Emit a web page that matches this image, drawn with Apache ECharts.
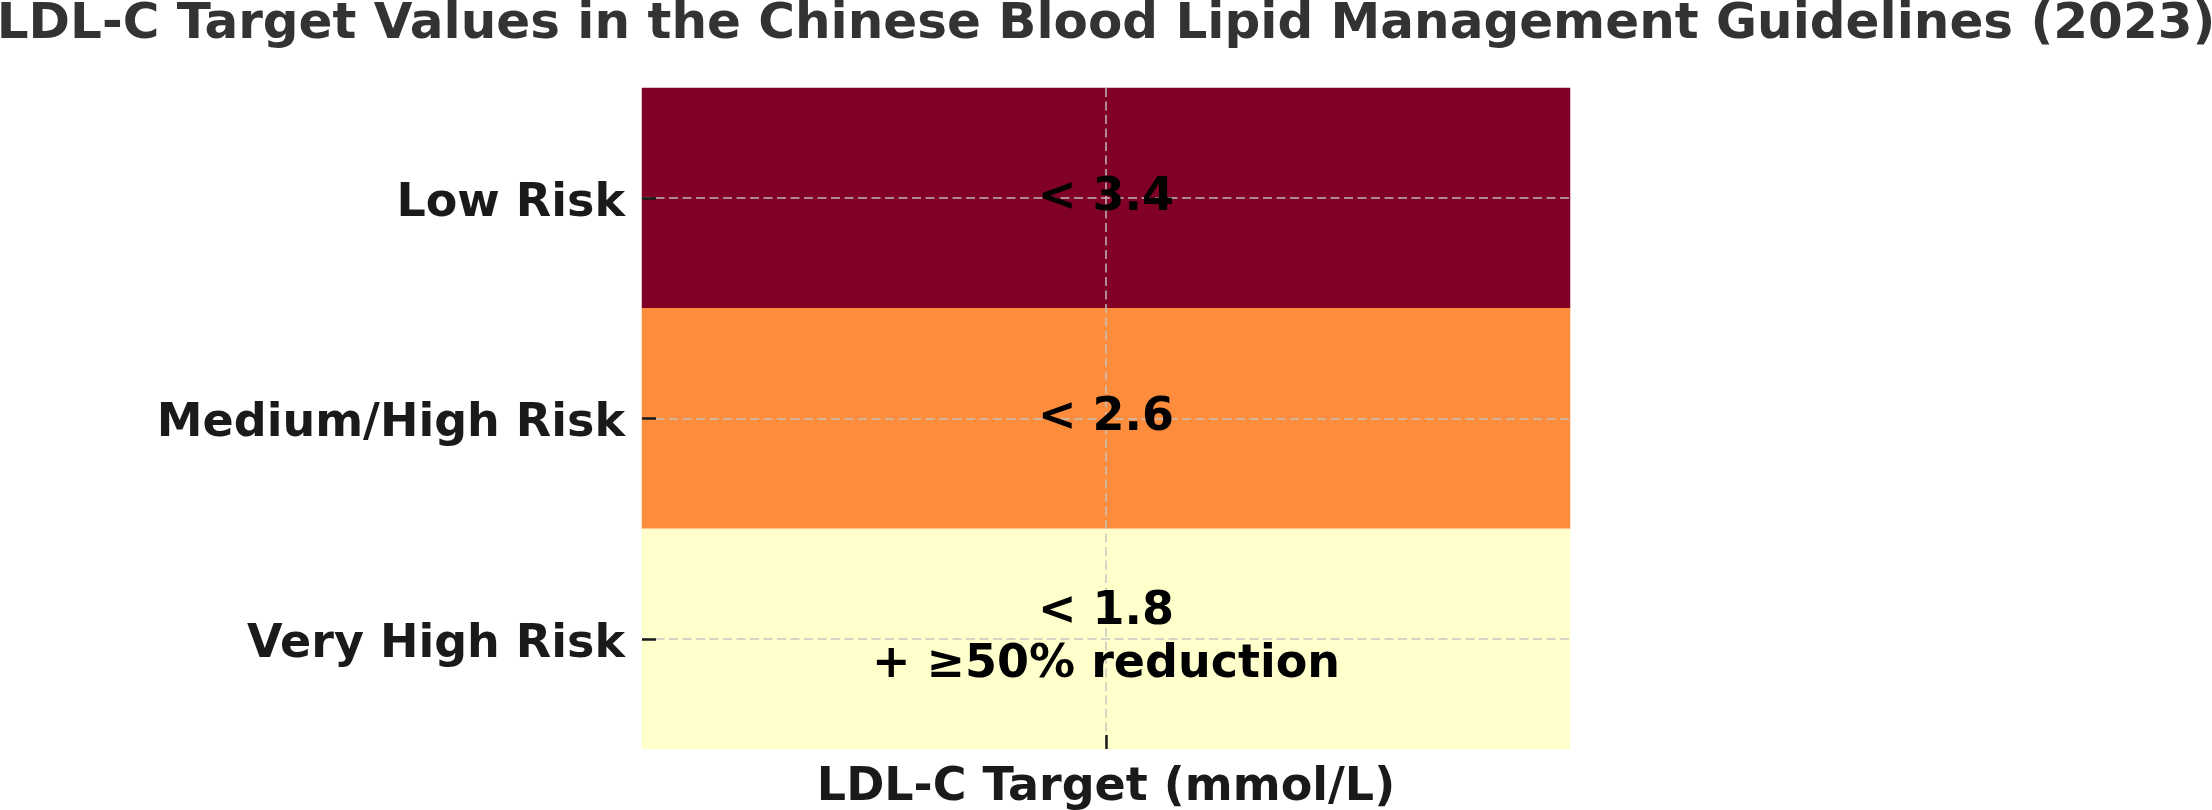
<!DOCTYPE html>
<html>
<head>
<meta charset="utf-8">
<title>LDL-C Target Values</title>
<script src="https://cdn.jsdelivr.net/npm/echarts@6/dist/echarts.min.js"></script>
<style>
  html, body { margin: 0; padding: 0; background: #fff; }
  #chart { width: 2212px; height: 810px; }
</style>
</head>
<body>
<div id="chart"></div>
<script>
// data
var riskLevels = ['Low Risk', 'Medium/High Risk', 'Very High Risk'];
var targetValues = [3.4, 2.6, 1.8];
var targetText = ['< 3.4', '< 2.6', '< 1.8\n+ \u226550% reduction'];
var xCategories = ['LDL-C Target (mmol/L)'];

var chart = echarts.init(document.getElementById('chart'));

var cells = [];
var textPoints = [];
for (var i = 0; i < riskLevels.length; i++) {
    cells.push([0, i, targetValues[i]]);
    textPoints.push([0, i]);
}

// dashed grid through the middle of each cell, drawn over the colours
var gridLines = [];
xCategories.forEach(function (c) { gridLines.push({ xAxis: c }); });
riskLevels.forEach(function (r) { gridLines.push({ yAxis: r }); });

var font = 'DejaVu Sans';
var tickStyle = {
    show: true,
    inside: true,
    alignWithLabel: true,
    length: 14,
    lineStyle: { color: '#1a1a1a', width: 2.5 }
};

option = {
    animation: false,
    title: {
        text: 'LDL-C Target Values in the Chinese Blood Lipid Management Guidelines (2023)',
        left: 'center',
        top: -5,
        textStyle: {
            fontFamily: font,
            fontWeight: 'bold',
            fontSize: 50,
            color: '#333333'
        }
    },
    grid: {
        left: 642,
        right: 642,
        top: 88,
        bottom: 61,
        outerBoundsMode: 'none'
    },
    xAxis: {
        type: 'category',
        data: xCategories,
        z: 10,
        name: 'LDL-C Target (mmol/L)',
        nameLocation: 'middle',
        nameGap: 16,
        nameTextStyle: {
            fontFamily: font,
            fontWeight: 'bold',
            fontSize: 46,
            color: '#1a1a1a',
            verticalAlign: 'top'
        },
        axisLine: { show: false },
        axisTick: tickStyle,
        axisLabel: { show: false },
        splitLine: { show: false }
    },
    yAxis: {
        type: 'category',
        data: riskLevels,
        inverse: true,
        z: 10,
        axisLine: { show: false },
        axisTick: tickStyle,
        axisLabel: {
            margin: 17,
            formatter: function (v) { return '{r|' + v + '}'; },
            rich: {
                r: {
                    padding: [12, 0, 0, 0],
                    fontFamily: font,
                    fontWeight: 'bold',
                    fontSize: 46,
                    color: '#1a1a1a'
                }
            }
        },
        splitLine: { show: false }
    },
    visualMap: {
        show: false,
        seriesIndex: 0,
        min: 1.8,
        max: 3.4,
        inRange: {
            color: ['#ffffcc', '#ffeda0', '#fed976', '#feb24c', '#fd8d3c',
                    '#fc4e2a', '#e31a1c', '#bd0026', '#800026']
        }
    },
    series: [
        {
            type: 'heatmap',
            z: 1,
            data: cells,
            emphasis: { disabled: true },
            markLine: {
                silent: true,
                symbol: 'none',
                label: { show: false },
                lineStyle: { color: 'rgba(195,195,195,0.7)', type: [9, 4.5], width: 2 },
                data: gridLines
            }
        },
        {
            // cell texts sit above the dashed grid
            type: 'scatter',
            z: 5,
            silent: true,
            symbolSize: 0,
            itemStyle: { opacity: 1 },
            data: textPoints,
            label: {
                show: true,
                position: 'inside',
                fontFamily: font,
                fontWeight: 'bold',
                fontSize: 46,
                lineHeight: 53,
                color: '#000',
                formatter: function (p) {
                    return targetText[p.data[1]];
                }
            }
        }
    ]
};

chart.setOption(option);
</script>
</body>
</html>
